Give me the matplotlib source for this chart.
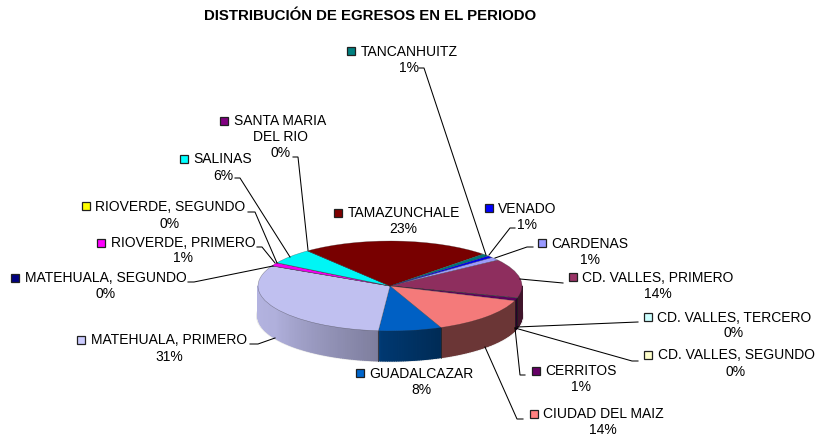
import numpy as np
import matplotlib
matplotlib.use("Agg")
import matplotlib.pyplot as plt
from matplotlib.colors import to_rgb
from matplotlib.collections import PolyCollection
from matplotlib.patches import Ellipse

plt.rcParams['font.family'] = ['Liberation Sans', 'DejaVu Sans']

title = "DISTRIBUCIÓN DE EGRESOS EN EL PERIODO"
categories = ["CARDENAS", "CD. VALLES, PRIMERO", "CD. VALLES, SEGUNDO", "CD. VALLES, TERCERO",
              "CERRITOS", "CIUDAD DEL MAIZ", "GUADALCAZAR", "MATEHUALA, PRIMERO",
              "MATEHUALA, SEGUNDO", "RIOVERDE, PRIMERO", "RIOVERDE, SEGUNDO", "SALINAS",
              "SANTA MARIA\nDEL RIO", "TAMAZUNCHALE", "TANCANHUITZ", "VENADO"]
values = [1.2, 14.0, 0.05, 0.05, 1.0, 13.4, 7.7, 31.0, 0.05, 1.2, 0.05, 5.6, 0.05, 23.2, 0.9, 0.7]
pct_labels = ["1%", "14%", "0%", "0%", "1%", "14%", "8%", "31%", "0%", "1%", "0%", "6%", "0%", "23%", "1%", "1%"]
colors = ["#9999FF", "#993366", "#FFFFCC", "#CCFFFF", "#660066", "#FF8080", "#0066CC", "#CCCCFF",
          "#000080", "#FF00FF", "#FFFF00", "#00FFFF", "#800080", "#800000", "#008080", "#0000FF"]
top_colors = ["#9C9CF8", "#8E2E5E", "#F5F5C4", "#C4F5F5", "#5E005E", "#F47A7A", "#0060C4", "#C0C0F0",
              "#000078", "#F000F0", "#F5F500", "#00F5F5", "#780078", "#780000", "#007878", "#0000F0"]

# layout, in reference pixels
W, H = 815, 438
CX, CY, RX, RY, DEPTH = 390, 286, 132, 45, 30
START = 39.4
# text centre x, first-line y, pct y, marker x, marker y
label_pos = {
    "CARDENAS": (590, 244, 260, 542, 243),
    "CD. VALLES, PRIMERO": (658, 278, 294, 573, 277),
    "CD. VALLES, SEGUNDO": (736, 355, 372, 648, 355),
    "CD. VALLES, TERCERO": (734, 318, 333, 648, 317),
    "CERRITOS": (581, 371, 387, 536, 371),
    "CIUDAD DEL MAIZ": (603, 414, 430, 534, 414),
    "GUADALCAZAR": (421, 374, 390, 360, 373),
    "MATEHUALA, PRIMERO": (169, 340, 357, 81, 340),
    "MATEHUALA, SEGUNDO": (106, 278, 294, 15, 278),
    "RIOVERDE, PRIMERO": (183, 243, 258, 101, 243),
    "RIOVERDE, SEGUNDO": (170, 207, 224, 86, 206),
    "SALINAS": (223, 159, 176, 184, 159),
    "SANTA MARIA\nDEL RIO": (280.5, 121, 153, 224, 121),
    "TAMAZUNCHALE": (403.5, 213, 229, 338, 213),
    "TANCANHUITZ": (409, 52, 68, 351, 51),
    "VENADO": (527, 209, 225, 489, 208),
}
leaders = [
    [(419, 68), (424, 68), (486, 255)],
    [(515, 228), (510, 228), (489, 255)],
    [(533, 247), (527, 247), (495, 258)],
    [(563, 283), (520, 279)],
    [(638, 322), (517, 327)],
    [(638, 361), (632, 361), (515, 328)],
    [(525, 375), (520, 375), (515, 328)],
    [(523, 419), (517, 419), (485, 347)],
    [(250, 344), (258, 344), (275, 338)],
    [(188, 282), (194, 282), (273, 266)],
    [(257, 247), (262, 247), (275, 263)],
    [(248, 212), (255, 212), (277, 263)],
    [(235, 178), (240, 178), (290, 257)],
    [(293, 157), (298, 157), (308, 250)],
]

fig = plt.figure(figsize=(W / 100, H / 100), dpi=100, facecolor="white")

# pie axes: unit circle squashed into the ellipse
ax = fig.add_axes([0, 0, 1, 1], zorder=1)
ax.pie(values, colors=top_colors, startangle=START, counterclock=False, radius=1,
       wedgeprops=dict(linewidth=0.35, edgecolor="#30303080", zorder=3))
ax.set_aspect("auto")
ax.set_xlim((0 - CX) / RX, (W - CX) / RX)
ax.set_ylim((CY - H) / RY, CY / RY)
ax.axis("off")
d = DEPTH / RY


def shade(t):
    # brightness of the side wall by parametric angle
    return np.interp(t, [-180, -150, -96, -94, -67, -66, 0],
                     [0.88, 0.86, 0.62, 0.55, 0.42, 0.42, 0.42])


# soft shadow
ax.add_patch(Ellipse((0, -d), 2.03, 2.06, facecolor="#00000018", edgecolor="none", zorder=1))

polys, fcs = [], []
frac = np.array(values) / sum(values) * 360
ends = START - np.cumsum(frac)
begins = ends + frac
for b, e, c in zip(begins, ends, colors):
    hi, lo = min(b, 0), max(e, -180)
    if hi <= lo:
        continue
    ts = np.linspace(hi, lo, max(2, int((hi - lo) / 1.0) + 2))
    base = np.array(to_rgb(c))
    for t0, t1 in zip(ts[:-1], ts[1:]):
        x0, y0 = np.cos(np.radians(t0)), np.sin(np.radians(t0))
        x1, y1 = np.cos(np.radians(t1)), np.sin(np.radians(t1))
        polys.append([(x0, y0), (x1, y1), (x1, y1 - d), (x0, y0 - d)])
        fcs.append(np.clip(base * shade((t0 + t1) / 2), 0, 1))
ax.add_collection(PolyCollection(polys, facecolors=fcs, edgecolors=fcs, linewidths=0.9, zorder=2))
# dark seams on the side wall between slices
for b in begins:
    if -180 < b < 0:
        x0, y0 = np.cos(np.radians(b)), np.sin(np.radians(b))
        ax.plot([x0, x0], [y0, y0 - d], color="#202020", lw=0.5, zorder=2.5)

# label overlay in pixel coordinates
ov = fig.add_axes([0, 0, 1, 1], zorder=2)
ov.set_xlim(0, W)
ov.set_ylim(H, 0)
ov.axis("off")
ov.patch.set_alpha(0)

FS = 10.0
ov.text(370, 16, title, ha="center", va="center", fontsize=10.85, fontweight="bold", color="black")
for pts in leaders:
    xs, ys = zip(*pts)
    ov.plot(xs, ys, color="black", lw=0.75, solid_joinstyle="miter")
for name, pct, c in zip(categories, pct_labels, colors):
    x, y, py, mx, my = label_pos[name]
    lines = name.split("\n")
    for i, line in enumerate(lines):
        ov.text(x, y + i * 16, line, ha="center", va="center", fontsize=FS, color="black")
    ov.text(x, py, pct, ha="center", va="center", fontsize=FS, color="black")
    ov.plot([mx], [my], marker="s", ms=5.5, mfc=c, mec="#202020", mew=0.9, ls="none")

fig.savefig("out.png", dpi=100, facecolor="white")
